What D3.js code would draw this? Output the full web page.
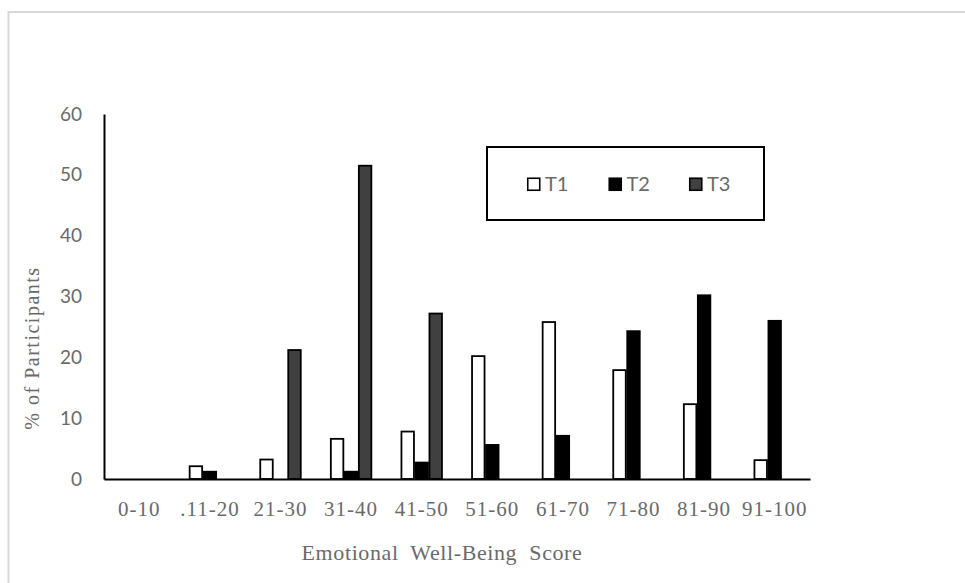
<!DOCTYPE html>
<html>
<head>
<meta charset="utf-8">
<script src="https://cdn.jsdelivr.net/npm/d3@7"></script>
<style>
  html, body { margin: 0; padding: 0; background: #fff; }
  svg { display: block; }
</style>
</head>
<body>
<svg id="chart" width="965" height="583"></svg>
<script>
const categories = ["0-10", ".11-20", "21-30", "31-40", "41-50", "51-60", "61-70", "71-80", "81-90", "91-100"];
const seriesNames = ["T1", "T2", "T3"];
const t1Values = [0, 2.1, 3.2, 6.6, 7.8, 20.2, 25.8, 17.9, 12.3, 3.1];
const t2Values = [0, 1.2, 0, 1.2, 2.7, 5.6, 7.1, 24.3, 30.2, 26.0];
const t3Values = [0, 0, 21.2, 51.5, 27.2, 0, 0, 0, 0, 0];
const yTicks = [0, 10, 20, 30, 40, 50, 60];
const yTitle = "% of Participants";
const xTitle = "Emotional Well-Being Score";

const seriesValues = { T1: t1Values, T2: t2Values, T3: t3Values };
const fills = { T1: "#ffffff", T2: "#000000", T3: "#404040" };

const svg = d3.select("#chart");

// outer frame
svg.append("rect")
  .attr("x", 8.5).attr("y", 12)
  .attr("width", 970).attr("height", 600)
  .attr("fill", "none").attr("stroke", "#d9d9d9").attr("stroke-width", 2);

const plotLeft = 104, plotRight = 810, plotTop = 114, plotBottom = 479;

const x0 = d3.scaleBand().domain(categories).range([plotLeft, plotRight])
  .paddingInner(0.405).paddingOuter(0.2025);
const x1 = d3.scaleBand().domain(seriesNames).range([0, x0.bandwidth()]);
const y = d3.scaleLinear().domain([0, 60]).range([plotBottom, plotTop]);

// bars
const rows = [];
categories.forEach((c, i) => {
  seriesNames.forEach(s => {
    const v = seriesValues[s][i];
    if (v > 0) rows.push({ c, s, v });
  });
});

svg.append("g").selectAll("rect").data(rows).join("rect")
  .attr("x", d => x0(d.c) + x1(d.s) + 0.75)
  .attr("y", d => y(d.v))
  .attr("width", x1.bandwidth() - 1.5)
  .attr("height", d => y(0) - y(d.v))
  .attr("fill", d => fills[d.s])
  .attr("stroke", "#000")
  .attr("stroke-width", 1.8);

// y axis
const yAxis = d3.axisLeft(y).tickValues(yTicks).tickSize(0).tickPadding(22);
const gy = svg.append("g").attr("transform", `translate(${plotLeft},0)`).call(yAxis);
gy.select(".domain").attr("stroke", "#000").attr("stroke-width", 2);
gy.selectAll("text")
  .attr("font-family", "Lato, 'Open Sans', sans-serif")
  .attr("font-size", 19)
  .attr("fill", "#6a6a6a");

// x axis
const xAxis = d3.axisBottom(x0).tickSize(0).tickPadding(22);
const gx = svg.append("g").attr("transform", `translate(0,${plotBottom})`).call(xAxis);
gx.select(".domain").attr("stroke", "#000").attr("stroke-width", 2);
gx.selectAll("text")
  .attr("font-family", "'Liberation Serif', 'Times New Roman', serif")
  .attr("font-size", 21)
  .attr("letter-spacing", 1)
  .attr("fill", "#6a6a6a");

// axis titles
svg.append("text")
  .attr("x", 442).attr("y", 560)
  .attr("text-anchor", "middle")
  .attr("font-family", "'Liberation Serif', 'Times New Roman', serif")
  .attr("font-size", 22)
  .attr("letter-spacing", 0.6)
  .attr("word-spacing", 6)
  .attr("fill", "#6a6a6a")
  .text(xTitle);

svg.append("text")
  .attr("transform", "translate(39,348) rotate(-90)")
  .attr("text-anchor", "middle")
  .attr("font-family", "'Liberation Serif', 'Times New Roman', serif")
  .attr("font-size", 20)
  .attr("letter-spacing", 1.5)
  .attr("fill", "#6a6a6a")
  .text(yTitle);

// legend
svg.append("rect")
  .attr("x", 487).attr("y", 147).attr("width", 277).attr("height", 73)
  .attr("fill", "#fff").attr("stroke", "#000").attr("stroke-width", 2);

const legendX = { T1: 527, T2: 608.5, T3: 689 };
const lg = svg.append("g").selectAll("g").data(seriesNames).join("g")
  .attr("transform", d => `translate(${legendX[d]},177.5)`);
lg.append("rect")
  .attr("x", 0.75).attr("y", 0.75).attr("width", 12).attr("height", 12)
  .attr("fill", d => fills[d]).attr("stroke", "#000").attr("stroke-width", 1.6);
lg.append("text")
  .attr("x", 18).attr("y", 13.5)
  .attr("font-family", "Lato, 'Open Sans', sans-serif")
  .attr("font-size", 20)
  .attr("fill", "#6a6a6a")
  .text(d => d);
</script>
</body>
</html>
